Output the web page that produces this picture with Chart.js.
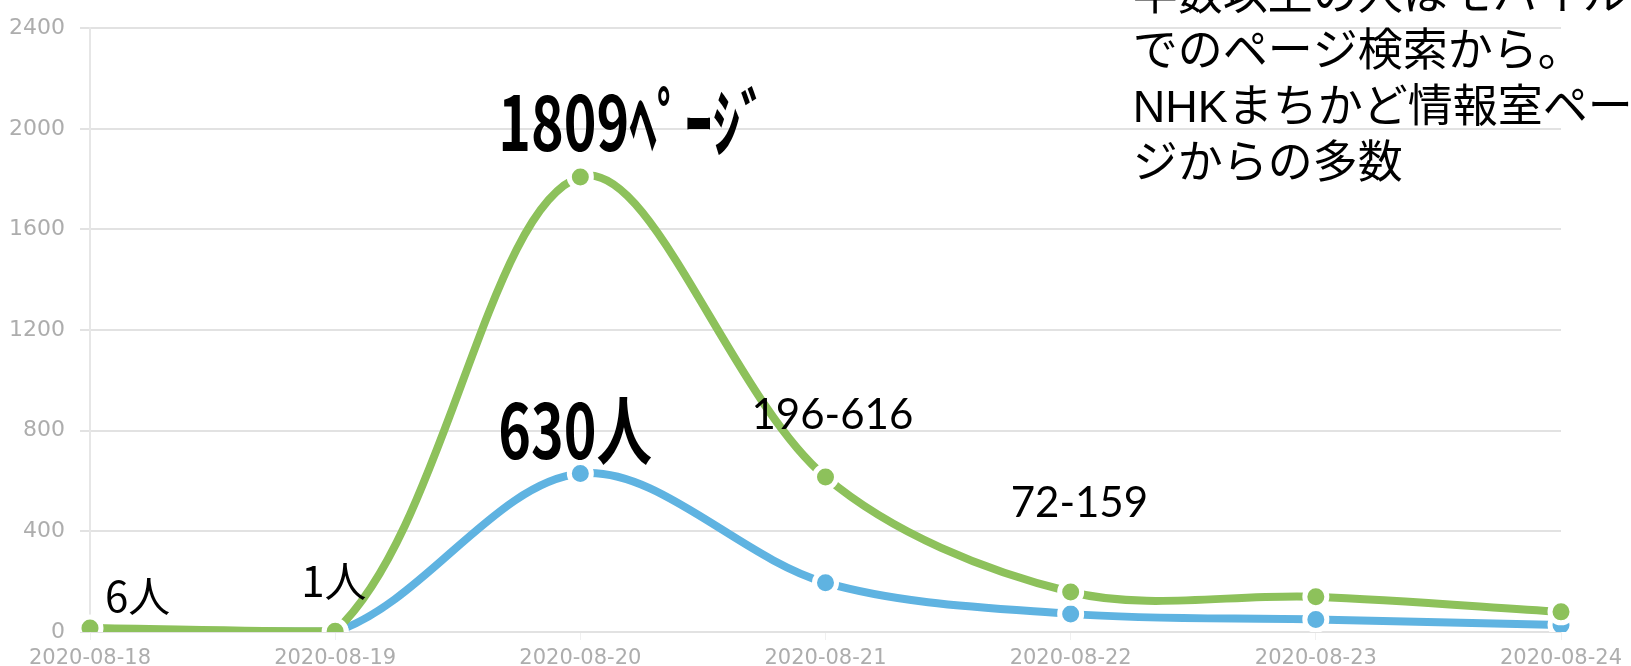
<!DOCTYPE html>
<html>
<head>
<meta charset="utf-8">
<script src="https://cdn.jsdelivr.net/npm/chart.js@4/dist/chart.umd.min.js"></script>
<style>
    body { margin: 0; background: #ffffff; }
    #chart-box { width: 1631px; height: 666px; }
</style>
</head>
<body>
<div id="chart-box"><canvas id="myChart"></canvas></div>
<script>
// Dates on the x axis
const days = ['2020-08-18', '2020-08-19', '2020-08-20', '2020-08-21', '2020-08-22', '2020-08-23', '2020-08-24'];
// Page views (green) and visitors (blue)
const pageViews = [16, 3, 1809, 616, 159, 140, 80];
const visitors = [6, 1, 630, 196, 72, 50, 28];
// Y axis ticks
const yTicks = [0, 400, 800, 1200, 1600, 2000, 2400];

// Notes drawn on top of the chart, anchored to a day index and a value
const noteTexts = ['6人', '1人', '1809ﾍﾟｰｼﾞ', '630人', '196-616', '72-159'];
const noteDay = [0, 1, 2, 2, 3, 4];
const noteValue = [0, 0, 1809, 630, 616, 159];

const memoLines = ['半数以上の人はモバイル', 'でのページ検索から。', 'NHKまちかど情報室ペー', 'ジからの多数'];

const GREEN = '#8dc15b';
const BLUE = '#5fb3e1';

// offsets and fonts for each note
const noteStyle = [
    { dx: 15, dy: -20, font: '42px "Noto Sans CJK JP"', sx: 1 },
    { dx: -34, dy: -35, font: '42px "Noto Sans CJK JP"', sx: 1 },
    { dx: -82, dy: -26, font: 'bold 75px "Noto Sans CJK JP"', sx: 0.74 },
    { dx: -82, dy: -15, font: 'bold 75px "Noto Sans CJK JP"', sx: 0.74 },
    { dx: -74, dy: -48, font: '42px Lato', sx: 1 },
    { dx: -60, dy: -75, font: '42px Lato', sx: 1 }
];

const notesPlugin = {
    id: 'notes',
    afterDatasetsDraw(chart) {
        const ctx = chart.ctx;
        const xs = chart.scales.x;
        const ys = chart.scales.y;
        ctx.save();
        ctx.fillStyle = '#000000';
        ctx.textAlign = 'left';
        ctx.textBaseline = 'alphabetic';
        for (let i = 0; i < noteTexts.length; i++) {
            const st = noteStyle[i];
            const x = xs.getPixelForValue(noteDay[i]) + st.dx;
            const y = ys.getPixelForValue(noteValue[i]) + st.dy;
            ctx.save();
            ctx.font = st.font;
            ctx.translate(x, y);
            ctx.scale(st.sx, 1);
            ctx.fillText(noteTexts[i], 0, 0);
            ctx.restore();
        }

        // memo in the top right corner, hangs from the 2400 line
        ctx.font = '45px "Liberation Sans", "Noto Sans CJK JP"';
        ctx.textBaseline = 'middle';
        const mx = xs.getPixelForValue(4) + 62;
        const my = ys.getPixelForValue(2400) - 31;
        memoLines.forEach((line, k) => {
            ctx.fillText(line, mx, my + k * 56);
        });
        ctx.restore();
    }
};

const config = {
    type: 'line',
    data: {
        labels: days,
        datasets: [
            {
                label: 'ページ',
                data: pageViews,
                borderColor: GREEN,
                backgroundColor: GREEN,
                pointBackgroundColor: GREEN,
                pointBorderColor: '#ffffff',
                borderWidth: 8,
                pointRadius: 11,
                pointBorderWidth: 5,
                tension: 0.33,
                fill: false
            },
            {
                label: '人',
                data: visitors,
                borderColor: BLUE,
                backgroundColor: BLUE,
                pointBackgroundColor: BLUE,
                pointBorderColor: '#ffffff',
                borderWidth: 8,
                pointRadius: 11,
                pointBorderWidth: 5,
                tension: 0.33,
                fill: false
            }
        ]
    },
    options: {
        responsive: true,
        maintainAspectRatio: false,
        animation: false,
        layout: {
            padding: { top: 24, right: 70, bottom: 0, left: 0 }
        },
        plugins: {
            legend: { display: false },
            tooltip: { enabled: false }
        },
        scales: {
            x: {
                afterFit(scale) {
                    scale.height = 34;
                },
                grid: {
                    drawOnChartArea: false,
                    color: '#f0f0f0',
                    tickLength: 8
                },
                border: { display: false },
                ticks: {
                    color: '#adadad',
                    padding: 8,
                    maxRotation: 0,
                    autoSkip: false,
                    font: { family: 'DejaVu Sans', size: 21, lineHeight: 1 }
                }
            },
            y: {
                min: 0,
                max: 2400,
                afterBuildTicks(scale) {
                    scale.ticks = yTicks.map(v => ({ value: v }));
                },
                afterFit(scale) {
                    scale.width = 90;
                },
                grid: {
                    color: '#e2e2e2',
                    lineWidth: 2,
                    tickLength: 10
                },
                border: { display: true, color: '#e6e6e6', width: 2 },
                ticks: {
                    color: '#adadad',
                    padding: 15,
                    callback: (value) => String(value),
                    font: { family: 'DejaVu Sans', size: 22 }
                }
            }
        }
    },
    plugins: [notesPlugin]
};

const myChart = new Chart(document.getElementById('myChart'), config);
</script>
</body>
</html>
